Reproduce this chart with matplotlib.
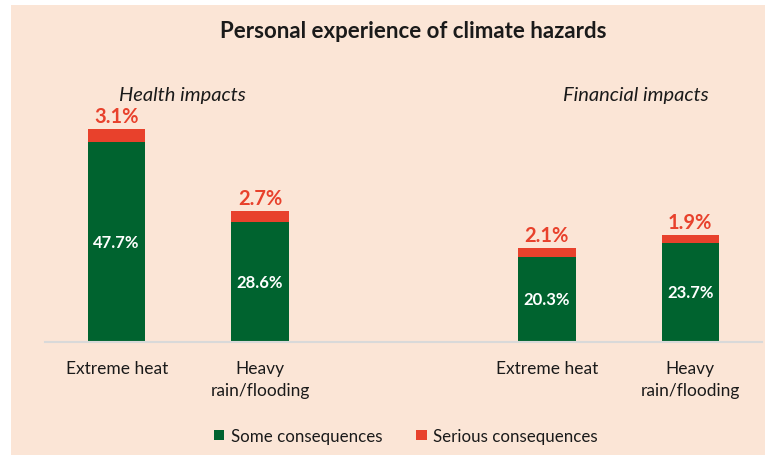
import matplotlib.pyplot as plt
import numpy as np

CATEGORIES = ['Extreme heat', 'Heavy\nrain/flooding', 'Extreme heat', 'Heavy\nrain/flooding']
SOME = [47.7, 28.6, 20.3, 23.7]
SERIOUS = [3.1, 2.7, 2.1, 1.9]
GROUPS = ['Health impacts', 'Financial impacts']

GREEN = '#00632F'
RED = '#E8412C'
BG = '#FBE5D6'
INK = '#1A1A1A'

plt.rcParams['font.family'] = ['Lato', 'DejaVu Sans']

fig = plt.figure(figsize=(7.65, 4.56), dpi=100)
fig.patches.append(plt.Rectangle((11 / 765, 0), 1, 1 - 6 / 456, transform=fig.transFigure,
                                 facecolor=BG, edgecolor='none', zorder=-10))
ax = fig.add_axes([45 / 765, 113 / 456, 717 / 765, 243 / 456])
ax.set_facecolor('none')

x = np.array([0, 1, 3, 4])
width = 0.4
ax.bar(x, SOME, width, color=GREEN, label='Some consequences')
ax.bar(x, SERIOUS, width, bottom=SOME, color=RED, label='Serious consequences')

for xi, s, r in zip(x, SOME, SERIOUS):
    ax.text(xi, s / 2, f'{s}%', ha='center', va='center', color='white',
            fontsize=12, fontweight='bold')
    ax.text(xi, s + r + 0.7, f'{r}%', ha='center', va='bottom', color=RED,
            fontsize=14.5, fontweight='bold')

ax.set_xlim(-0.5, 4.5)
ax.set_ylim(0, 58)
ax.set_xticks(x)
ax.set_xticklabels(CATEGORIES, fontsize=12.5, linespacing=1.45, color=INK)
ax.tick_params(axis='x', length=0, pad=13)
ax.set_yticks([])
for side in ['left', 'right', 'top']:
    ax.spines[side].set_visible(False)
ax.spines['bottom'].set_color('#D9D9D9')
ax.spines['bottom'].set_linewidth(1.5)

fig.text(413 / 765, 1 - 32 / 456, 'Personal experience of climate hazards',
         ha='center', va='center', fontsize=16, fontweight='bold', color=INK)
fig.text(182 / 765, 1 - 95 / 456, GROUPS[0], ha='center', va='center',
         fontsize=14.5, style='italic', color=INK)
fig.text(636 / 765, 1 - 95 / 456, GROUPS[1], ha='center', va='center',
         fontsize=14.5, style='italic', color=INK)

fig.legend(loc='center', bbox_to_anchor=(406 / 765, 1 - 437 / 456), ncol=2,
           frameon=False, fontsize=12.2, handlelength=0.6, handleheight=0.6,
           handletextpad=0.4, columnspacing=2.0, labelcolor=INK)

fig.savefig('out.png', dpi=100, facecolor='white')
